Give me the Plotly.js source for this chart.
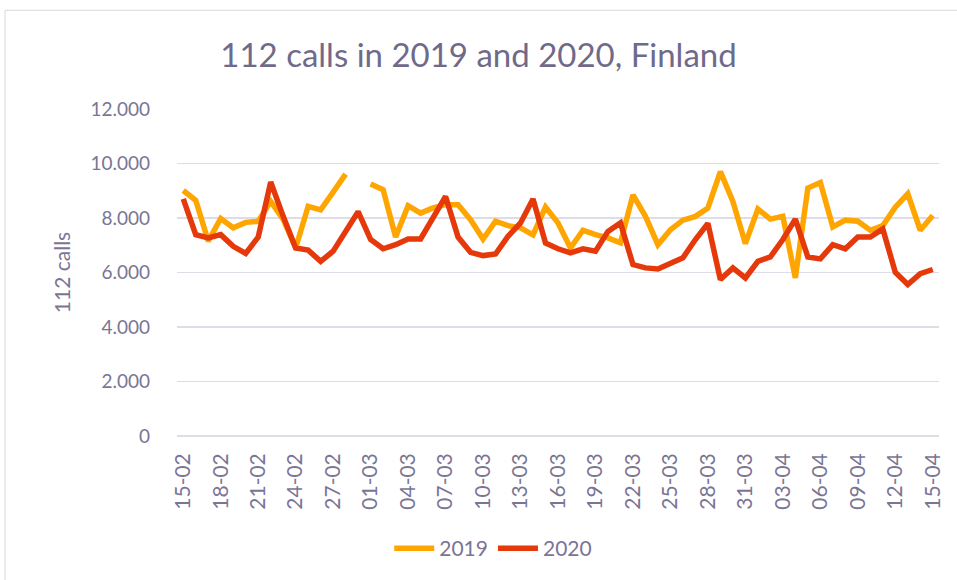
<!DOCTYPE html>
<html>
<head>
<meta charset="utf-8">
<script src="https://cdn.plot.ly/plotly-3.0.1.min.js"></script>
<style>html,body{margin:0;padding:0;background:#fff;}#chart{width:957px;height:580px;}</style>
</head>
<body>
<div id="chart"></div>
<script>
const dates = ["15-02","16-02","17-02","18-02","19-02","20-02","21-02","22-02","23-02","24-02","25-02","26-02","27-02","28-02","29-02",
"01-03","02-03","03-03","04-03","05-03","06-03","07-03","08-03","09-03","10-03","11-03","12-03","13-03","14-03","15-03","16-03",
"17-03","18-03","19-03","20-03","21-03","22-03","23-03","24-03","25-03","26-03","27-03","28-03","29-03","30-03","31-03",
"01-04","02-04","03-04","04-04","05-04","06-04","07-04","08-04","09-04","10-04","11-04","12-04","13-04","14-04","15-04"];

const tickLabels = ["15-02","18-02","21-02","24-02","27-02","01-03","04-03","07-03","10-03","13-03","16-03","19-03","22-03","25-03","28-03","31-03","03-04","06-04","09-04","12-04","15-04"];

const calls2019 = [9010,8650,7150,7980,7640,7840,7880,8610,7950,6900,8430,8300,8950,9610,null,
9250,9040,7300,8450,8180,8370,8490,8490,7940,7230,7880,7720,7640,7380,8400,7820,
6900,7550,7390,7270,7090,8850,8060,7020,7570,7920,8060,8370,9700,8610,7060,
8330,7960,8060,5800,9100,9300,7670,7920,7880,7550,7720,8400,8890,7550,8090];

const calls2020 = [8700,7390,7270,7390,6960,6700,7300,9320,8060,6900,6820,6410,6780,7510,8230,
7210,6870,7020,7230,7230,8000,8790,7300,6740,6620,6680,7330,7820,8700,7080,6870,
6720,6870,6780,7510,7820,6290,6170,6130,6350,6540,7210,7800,5740,6170,5800,
6410,6570,7210,7960,6570,6500,7020,6870,7300,7300,7600,6010,5560,5960,6110];

const textColor = "#7a7595";
const gridColor = "#dedde5";
const fontFam = "Lato, 'Open Sans', sans-serif";

const traces = [
  {x: dates, y: calls2019, name: "2019", type: "scatter", mode: "lines",
   line: {color: "#FFA500", width: 5.5}, connectgaps: false},
  {x: dates, y: calls2020, name: "2020", type: "scatter", mode: "lines",
   line: {color: "#E5390B", width: 5.5}, connectgaps: false}
];

const layout = {
  width: 957, height: 580,
  margin: {l: 177, r: 18, t: 109, b: 143},
  paper_bgcolor: "#ffffff", plot_bgcolor: "#ffffff",
  separators: ",.",
  font: {family: fontFam, color: textColor},
  title: {text: "112 calls in 2019 and 2020, Finland", x: 0.5, xanchor: "center",
          y: 0.905, yanchor: "middle", font: {size: 33, color: "#6f6a8a", family: fontFam}},
  xaxis: {type: "category", categoryorder: "array", categoryarray: dates,
          range: [-0.5, 60.5], tickmode: "array", tickvals: tickLabels, ticktext: tickLabels,
          tickangle: -90, tickfont: {size: 21, color: textColor}, showgrid: false,
          showline: false, zeroline: false, ticks: "", ticklen: 0, ticklabelstandoff: 12},
  yaxis: {range: [0, 12000], tickvals: [0,2000,4000,6000,8000,10000,12000], tickformat: ",d",
          tickfont: {size: 19, color: textColor}, gridcolor: gridColor, gridwidth: 1.5,
          zeroline: true, zerolinecolor: gridColor, zerolinewidth: 1.5, showline: false,
          ticks: "", ticklabelstandoff: 26,
          title: {text: "112 calls", font: {size: 21, color: textColor}, standoff: 14}},
  legend: {orientation: "h", x: 0.415, xanchor: "center", y: -0.34, yanchor: "middle",
           font: {size: 21, color: textColor}, itemwidth: 40},
  showlegend: true,
  shapes: [{type: "rect", xref: "paper", yref: "paper", x0: -0.2257, x1: 1.2, y0: -0.6, y1: 1.3018,
            line: {color: "#d9d9d9", width: 1}, fillcolor: "rgba(0,0,0,0)", layer: "below"}]
};

Plotly.newPlot("chart", traces, layout, {displayModeBar: false, staticPlot: true});
</script>
</body>
</html>
